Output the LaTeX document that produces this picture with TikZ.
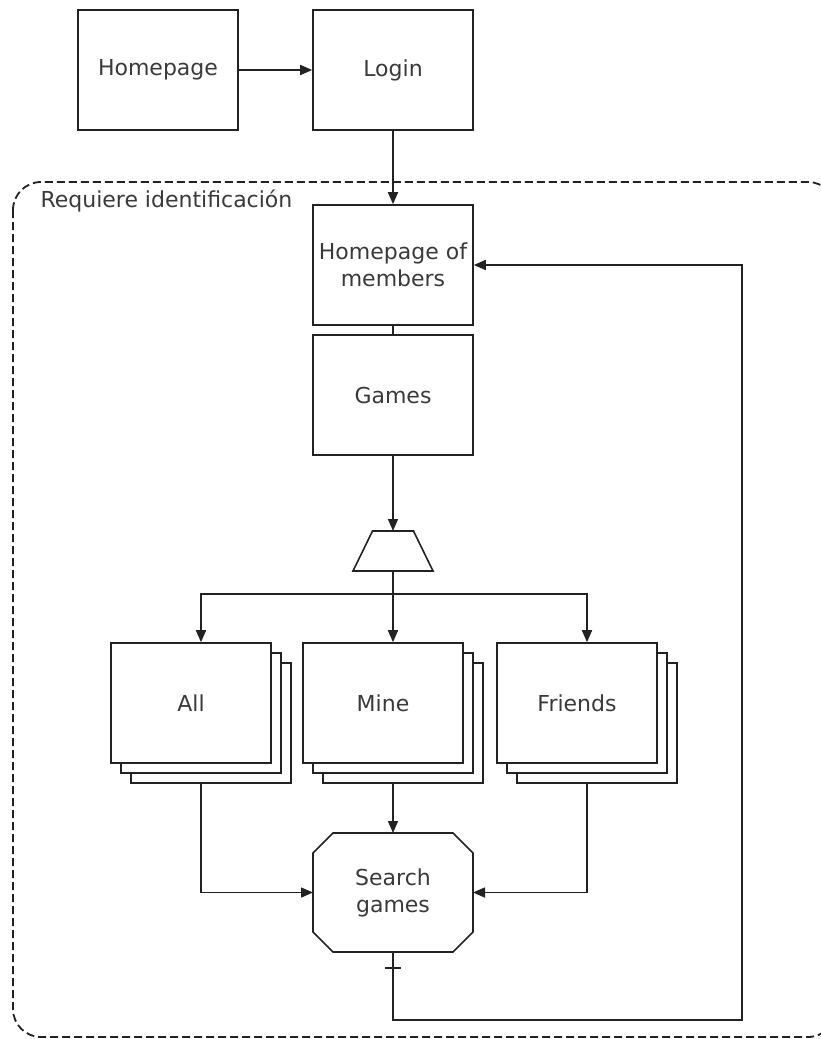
\documentclass[tikz,border=0pt]{standalone}
\usepackage{fontspec}
\setmainfont{DejaVu Sans}
\usetikzlibrary{arrows.meta,fit}
\definecolor{linec}{HTML}{222222}
\definecolor{textc}{HTML}{3A3A3A}

\begin{document}
\begin{tikzpicture}[x=1pt,y=-1pt,
  line/.style={draw=linec, line width=1.6pt},
  arr/.style={line, -{Triangle[length=12pt,width=10pt]}},
  lbl/.style={text=textc, font=\fontsize{22}{27}\selectfont},
  box/.style={line, lbl, fill=white, minimum width=160pt, minimum height=120pt,
              inner sep=0pt, align=center},
  page/.style={box},
  stack/.style={inner sep=0pt, outer sep=0pt},
  selbox/.style={inner sep=0pt, outer sep=0pt, minimum width=80pt, minimum height=40pt},
  octa/.style={lbl, inner sep=0pt, outer sep=0pt, minimum width=160pt,
               minimum height=119pt, align=center},
  frame/.style={draw=linec, line width=1.8pt, dash pattern=on 8pt off 4pt,
                rounded corners=28pt}
]
\useasboundingbox (0,0) rectangle (821,1039);
\clip (0,0) rectangle (821,1039);

% members-only area
\draw[frame] (13,182) rectangle (836,1037);
\node[lbl, anchor=west] (zone) at (37,201) {Requiere identificación};

% public pages
\node[box] (home) at (158,70) {Homepage};
\node[box] (login) at (393,70) {Login};

% members pages
\node[box] (mhome) at (393,265) {Homepage of\\members};
\node[box] (games) at (393,395) {Games};

% selector (trapezium)
\node[selbox] (sel) at (393,551) {};
\draw[line, fill=white] (sel.south west) -- (sel.south east)
  -- ([xshift=-19.5pt]sel.north east) -- ([xshift=19.5pt]sel.north west) -- cycle;

% stacked list pages (back to front)
\node[page] (all3) at (211,723) {};
\node[page] (all2) at (201,713) {};
\node[page] (all) at (191,703) {All};
\node[stack, fit=(all)(all3)] (allS) {};

\node[page] (mine3) at (403,723) {};
\node[page] (mine2) at (393,713) {};
\node[page] (mine) at (383,703) {Mine};
\node[stack, fit=(mine)(mine3)] (mineS) {};

\node[page] (fri3) at (597,723) {};
\node[page] (fri2) at (587,713) {};
\node[page] (fri) at (577,703) {Friends};
\node[stack, fit=(fri)(fri3)] (friS) {};

% search page (octagon with 20pt chamfers)
\node[octa] (search) at (393,892.5) {Search\\games};
\draw[line] ([xshift=20pt]search.north west) -- ([xshift=-20pt]search.north east)
  -- ([yshift=-20pt]search.north east) -- ([yshift=20pt]search.south east)
  -- ([xshift=-20pt]search.south east) -- ([xshift=20pt]search.south west)
  -- ([yshift=20pt]search.south west) -- ([yshift=-20pt]search.north west) -- cycle;

% connectors
\draw[arr] (home) -- (login);
\draw[arr] (login) -- (mhome);
\draw[line] (mhome) -- (games);
\draw[arr] (games) -- (sel);

\coordinate (split) at ([yshift=-23pt]sel.south);
\draw[arr] (sel.south) -- (mineS.north);
\draw[arr] (split) -| (allS.north);
\draw[arr] (split) -| (friS.north);

\draw[arr] (mineS.south) -- (search.north);
\draw[arr] (allS.south) |- (search.west);
\draw[arr] (friS.south) |- (search.east);

% return to the members homepage
\coordinate (loop) at (742,1020);
\draw[arr] (search.south) |- (loop) |- (mhome.east);
\draw[line] ([xshift=-8pt,yshift=-16pt]search.south) -- ++(16,0);
\end{tikzpicture}
\end{document}
